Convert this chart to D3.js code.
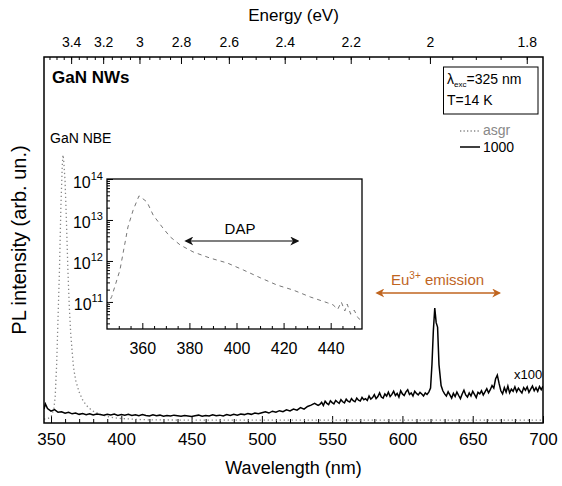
<!DOCTYPE html>
<html>
<head>
<meta charset="utf-8">
<script src="https://cdn.jsdelivr.net/npm/d3@7"></script>
<style>
  body { margin: 0; background: #fff; }
  svg text { font-family: "Liberation Sans", Arial, sans-serif; }
</style>
</head>
<body>
<svg width="562" height="486"></svg>
<script>
// wavelength (nm) and intensity, as-grown sample (dotted)
var asgrWl  = [345, 348, 350, 352, 353, 354, 355, 356, 357, 358, 358.5, 359, 360, 361, 362, 363, 364, 365, 366, 367.5, 370, 372.5, 375, 377.5, 380, 385, 390, 395, 400, 410, 420, 450, 500, 600, 700];
var asgrVal = [-8, -5, 0, 30, 80, 200, 380, 560, 800, 960, 1000, 980, 900, 740, 560, 420, 320, 250, 190, 140, 95, 65, 45, 32, 22, 10, 2, -3, -6, -9, -11, -12, -12, -12, -12];

// annealed 1000 sample (x100)
var s1000Wl = [345, 346, 347.5, 350, 352.5, 355, 357.5, 360, 362.5, 365, 367.5, 370, 372.5, 375, 377.5, 380, 382.5, 385, 387.5, 390, 392.5,
  395, 397.5, 400, 402.5, 405, 407.5, 410, 412.5, 415, 417.5, 420, 422.5, 425, 427.5, 430, 432.5, 435, 437.5, 440, 442.5,
  445, 447.5, 450, 452.5, 455, 457.5, 460, 462.5, 465, 467.5, 470, 472.5, 475, 477.5, 480, 482.5, 485, 487.5, 490, 492.5,
  495, 497.5, 500, 502.5, 505, 507.5, 510, 512.5, 515, 517.5, 520, 522.5, 525, 527.5, 530, 532.5, 535, 537.5,
  540, 541.25, 542.5, 543.75, 545, 546.25, 547.5, 548.75, 550, 551.25, 552.5, 553.75, 555, 556.25, 557.5, 558.75,
  560, 561.25, 562.5, 563.75, 565, 566.25, 567.5, 568.75, 570, 571.25, 572.5, 573.75, 575, 576.25, 577.5, 578.75,
  580, 581.25, 582.5, 583.75, 585, 586.25, 587.5, 588.75, 590, 591.25, 592.5, 593.75, 595, 596.25, 597.5, 598.75,
  600, 601.25, 602.5, 603.75, 605, 606.25, 607.5, 608.75, 610, 611.25, 612.5, 613.75, 615, 616.25, 617.5, 618.75,
  620, 621, 622, 623, 624, 625, 626, 627.5, 628.75, 630, 631.25, 632.5, 633.75, 635, 636.25, 637.5, 638.75,
  640, 641.25, 642.5, 643.75, 645, 646.25, 647.5, 648.75, 650, 651.25, 652.5, 653.75, 655, 656.25, 657.5, 658.75,
  660, 661.25, 662.5, 663.75, 665, 666.25, 667.5, 668.75, 670, 671.25, 672.5, 673.75, 675, 676.25, 677.5, 678.75,
  680, 681.25, 682.5, 683.75, 685, 686.25, 687.5, 688.75, 690, 691.25, 692.5, 693.75, 695, 696.25, 697.5, 698.75, 700];
var s1000Val = [30, 50, 32, 22, 28, 18, 20, 14, 18, 12, 15, 10, 13, 9, 12, 8, 11, 9, 7, 10, 8,
  11, 6, 9, 7, 10, 6, 8, 5, 9, 6, 4, 8, 5, 7, 3, 6, 4, 7, 5, 3,
  6, 4, 2, 5, 7, 3, 6, 4, 8, 5, 7, 4, 9, 6, 10, 7, 11, 9, 13, 10,
  15, 12, 16, 20, 15, 22, 18, 24, 20, 27, 23, 30, 26, 36, 30, 40, 45, 52, 44,
  48, 56, 44, 60, 52, 47, 62, 55, 50, 63, 57, 52, 66, 58, 54, 68,
  60, 57, 70, 62, 58, 72, 64, 61, 75, 66, 70, 63, 80, 68, 74, 85,
  70, 78, 92, 76, 72, 88, 80, 95, 78, 86, 98, 82, 90, 76, 100, 88,
  82, 96, 104, 86, 92, 80, 98, 90, 84, 94, 88, 80, 92, 86, 95, 110,
  200, 330, 416, 360, 343, 200, 120, 100, 88, 80, 96, 84, 72, 90, 78, 95, 82,
  70, 88, 102, 84, 76, 92, 80, 98, 86, 74, 94, 88, 100, 84, 96, 108,
  92, 104, 120, 110, 145, 160, 128, 100, 88, 112, 95, 118, 92, 106, 98, 115,
  96, 110, 100, 92, 112, 102, 115, 94, 106, 118, 100, 112, 98, 116, 104, 118, 106];

// inset: log intensity of GaN NBE/DAP region
var insetWl  = [345, 347, 350.5, 353.9, 356.1, 358.6, 362, 364.6, 368.4, 371.8, 376.1, 381.6, 388.8, 396.1, 402.9, 410.1, 417.3, 424.1, 431.4, 438.6, 441, 443, 444.5, 446, 447, 448.5, 450, 451.5, 452.7];
var insetLog = [10.9, 11.13, 11.78, 12.83, 13.24, 13.59, 13.44, 13.12, 12.83, 12.59, 12.39, 12.22, 12.07, 11.95, 11.78, 11.59, 11.41, 11.29, 11.12, 10.98, 10.93, 10.82, 11.0, 10.78, 10.95, 10.7, 10.8, 10.62, 10.56];

var wlTicks = [350, 400, 450, 500, 550, 600, 650, 700];
var energyTicks = [3.4, 3.2, 3, 2.8, 2.6, 2.4, 2.2, 2, 1.8];
var insetXTicks = [360, 380, 400, 420, 440];
var insetYTicks = [11, 12, 13, 14];

var svg = d3.select("svg");
var L = 44, R = 543, T = 57, B = 423;

var x = d3.scaleLinear().domain([345, 700]).range([L, R]);
var y = d3.scaleLinear().domain([-23, 1374]).range([B, T]);

// axes
var xAxis = d3.axisBottom(x).tickValues(wlTicks).tickSizeInner(-7).tickSizeOuter(0).tickPadding(10);
var gx = svg.append("g").attr("transform", "translate(0," + B + ")").call(xAxis);
gx.selectAll("text").style("font-size", "17px").attr("fill", "#000");
gx.select(".domain").remove();
var gxm = svg.append("g").attr("transform", "translate(0," + B + ")")
  .call(d3.axisBottom(x).tickValues(d3.range(350, 701, 10).filter(function (d) { return d % 50; })).tickSizeInner(-4).tickSizeOuter(0).tickFormat(""));
gxm.select(".domain").remove();

// top energy axis
var eMinor = d3.range(1.8, 3.56, 0.05).map(function (d) { return +d.toFixed(2); });
var gTop = svg.append("g");
gTop.selectAll("line.mi").data(eMinor).enter().append("line").attr("class", "mi")
  .attr("x1", function (d) { return x(1239.84 / d); }).attr("x2", function (d) { return x(1239.84 / d); })
  .attr("y1", T).attr("y2", T + 3).attr("stroke", "#000");
gTop.selectAll("line.ma").data(energyTicks).enter().append("line").attr("class", "ma")
  .attr("x1", function (d) { return x(1239.84 / d); }).attr("x2", function (d) { return x(1239.84 / d); })
  .attr("y1", T).attr("y2", T + 7).attr("stroke", "#000");
gTop.selectAll("text").data(energyTicks).enter().append("text")
  .attr("x", function (d) { return x(1239.84 / d); }).attr("y", 47)
  .attr("text-anchor", "middle").style("font-size", "14px").text(function (d) { return d; });

svg.append("text").attr("x", (L + R) / 2).attr("y", 21).attr("text-anchor", "middle")
  .style("font-size", "17px").text("Energy (eV)");
svg.append("text").attr("x", (L + R) / 2).attr("y", 474).attr("text-anchor", "middle")
  .style("font-size", "18px").text("Wavelength (nm)");
svg.append("text").attr("transform", "translate(26," + (T + B) / 2 + ") rotate(-90)")
  .attr("text-anchor", "middle").style("font-size", "20px").text("PL intensity (arb. un.)");

// data lines
svg.append("clipPath").attr("id", "clipMain").append("rect")
  .attr("x", L).attr("y", T).attr("width", R - L).attr("height", B - T);
var line = d3.line().x(function (d) { return x(d[0]); }).y(function (d) { return y(d[1]); });
svg.append("path").datum(d3.zip(asgrWl, asgrVal)).attr("d", line).attr("clip-path", "url(#clipMain)")
  .attr("fill", "none").attr("stroke", "#888").attr("stroke-width", 1.3).attr("stroke-dasharray", "1.3,2.7");
svg.append("path").datum(d3.zip(s1000Wl, s1000Val)).attr("d", line).attr("clip-path", "url(#clipMain)")
  .attr("fill", "none").attr("stroke", "#000").attr("stroke-width", 1.5);

svg.append("rect").attr("x", L).attr("y", T).attr("width", R - L).attr("height", B - T)
  .attr("fill", "none").attr("stroke", "#000").attr("stroke-width", 1.5);

// annotations
svg.append("text").attr("x", 52).attr("y", 83).style("font-size", "17px").style("font-weight", "bold").text("GaN NWs");
svg.append("text").attr("x", 50).attr("y", 143).style("font-size", "14px").text("GaN NBE");
svg.append("text").attr("x", 514).attr("y", 379).style("font-size", "13px").text("x100");

svg.append("rect").attr("x", 443.5).attr("y", 67).attr("width", 94.5).attr("height", 47)
  .attr("fill", "#fff").attr("stroke", "#000");
var t1 = svg.append("text").attr("x", 447).attr("y", 84).style("font-size", "14px");
t1.append("tspan").text("λ");
t1.append("tspan").attr("dy", 3).style("font-size", "8px").text("exc");
t1.append("tspan").attr("dy", -3).text("=325 nm");
svg.append("text").attr("x", 447).attr("y", 105).style("font-size", "14px").text("T=14 K");

// legend
svg.append("line").attr("x1", 460).attr("x2", 480).attr("y1", 131).attr("y2", 131)
  .attr("stroke", "#888").attr("stroke-width", 1.3).attr("stroke-dasharray", "1.3,2.2");
svg.append("text").attr("x", 483).attr("y", 135).style("font-size", "14px").attr("fill", "#888").text("asgr");
svg.append("line").attr("x1", 460).attr("x2", 480).attr("y1", 147).attr("y2", 147)
  .attr("stroke", "#000").attr("stroke-width", 1.5);
svg.append("text").attr("x", 483).attr("y", 152).style("font-size", "14px").text("1000");

// arrow markers
function marker(id, color) {
  var m = svg.append("defs").append("marker").attr("id", id).attr("viewBox", "0 0 10 10")
    .attr("refX", 8).attr("refY", 5).attr("markerWidth", 9).attr("markerHeight", 9)
    .attr("markerUnits", "userSpaceOnUse").attr("orient", "auto-start-reverse");
  m.append("path").attr("d", "M0,0 L10,5 L0,10 L3,5 Z").attr("fill", color);
}
marker("arrOr", "#c0651f");
marker("arrBk", "#111");

var orange = "#c0651f";
svg.append("line").attr("x1", x(582)).attr("x2", x(669)).attr("y1", 293).attr("y2", 293)
  .attr("stroke", orange).attr("stroke-width", 1.5)
  .attr("marker-start", "url(#arrOr)").attr("marker-end", "url(#arrOr)");
var eu = svg.append("text").attr("x", x(625)).attr("y", 285).attr("text-anchor", "middle")
  .style("font-size", "15px").attr("fill", orange);
eu.append("tspan").text("Eu");
eu.append("tspan").attr("dy", -6).style("font-size", "10px").text("3+");
eu.append("tspan").attr("dy", 6).text(" emission");

// inset
var iL = 107, iR = 362, iT = 179, iB = 329;
var ix = d3.scaleLinear().domain([345, 453.3]).range([iL, iR]);
var iy = d3.scaleLinear().domain([10.34, 14]).range([iB, iT]);
var ins = svg.append("g");
ins.append("rect").attr("x", iL).attr("y", iT).attr("width", iR - iL).attr("height", iB - iT).attr("fill", "#fff");

var gix = ins.append("g").attr("transform", "translate(0," + iB + ")")
  .call(d3.axisBottom(ix).tickValues(insetXTicks).tickSizeInner(-6).tickSizeOuter(0).tickPadding(14));
gix.select(".domain").remove();
gix.selectAll("text").style("font-size", "16px").attr("fill", "#000");
var gixm = ins.append("g").attr("transform", "translate(0," + iB + ")")
  .call(d3.axisBottom(ix).tickValues(d3.range(350, 451, 5).filter(function (d) { return d % 20; })).tickSizeInner(-3).tickSizeOuter(0).tickFormat(""));
gixm.select(".domain").remove();

var yMinor = [];
insetYTicks.concat([10]).forEach(function (e) {
  d3.range(2, 10).forEach(function (k) {
    var v = e + Math.log10(k);
    if (v > 10.34 && v < 14) yMinor.push(v);
  });
});
var giym = ins.append("g").attr("transform", "translate(" + iL + ",0)")
  .call(d3.axisLeft(iy).tickValues(yMinor).tickSizeInner(-3).tickSizeOuter(0).tickFormat(""));
giym.select(".domain").remove();
var giy = ins.append("g").attr("transform", "translate(" + iL + ",0)")
  .call(d3.axisLeft(iy).tickValues(insetYTicks).tickSizeInner(-6).tickSizeOuter(0).tickFormat(""));
giy.select(".domain").remove();
giy.selectAll(".tick").each(function (d) {
  var t = d3.select(this).append("text").attr("x", -4).attr("y", 8).attr("text-anchor", "end")
    .attr("fill", "#000").style("font-size", "16px");
  t.append("tspan").text("10");
  t.append("tspan").attr("dy", -8).style("font-size", "11px").text(d);
});

var iline = d3.line().x(function (d) { return ix(d[0]); }).y(function (d) { return iy(d[1]); });
ins.append("path").datum(d3.zip(insetWl, insetLog)).attr("d", iline)
  .attr("fill", "none").attr("stroke", "#777").attr("stroke-width", 1).attr("stroke-dasharray", "4,4");

ins.append("line").attr("x1", ix(378.6)).attr("x2", ix(425.9)).attr("y1", 241).attr("y2", 241)
  .attr("stroke", "#555").attr("stroke-width", 1.5)
  .attr("marker-start", "url(#arrBk)").attr("marker-end", "url(#arrBk)");
ins.append("text").attr("x", 240).attr("y", 234).attr("text-anchor", "middle").style("font-size", "15px").text("DAP");

ins.append("rect").attr("x", iL).attr("y", iT).attr("width", iR - iL).attr("height", iB - iT)
  .attr("fill", "none").attr("stroke", "#000").attr("stroke-width", 1.3);
</script>
</body>
</html>
